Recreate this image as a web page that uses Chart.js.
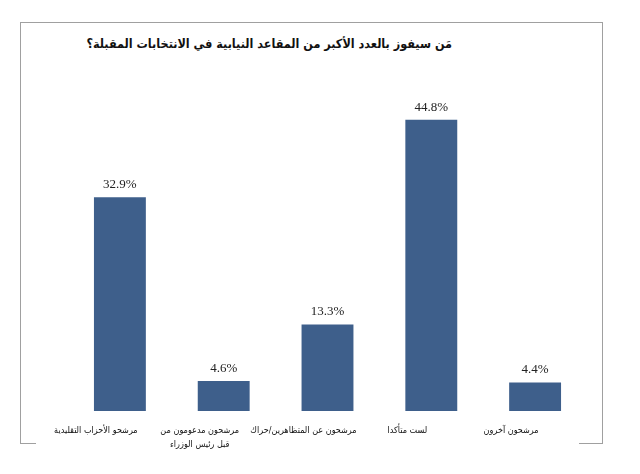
<!DOCTYPE html>
<html lang="ar">

<head>
    <meta charset="UTF-8">
    <title>Chart</title>
    <script src="https://cdn.jsdelivr.net/npm/chart.js"></script>
    <style>
        body {
            margin: 0;
            background: #fff;
        }

        #wrap {
            position: relative;
            width: 640px;
            height: 474px;
        }

        #frame {
            position: absolute;
            left: 20px;
            top: 22px;
            width: 581px;
            height: 421px;
            border: 1px solid #a0a0a0;
            border-bottom: none;
        }

        #frame::before,
        #frame::after {
            content: "";
            position: absolute;
            bottom: 0;
            height: 1px;
            background: #a0a0a0;
        }

        #frame::before {
            left: 0;
            width: 15px;
        }

        #frame::after {
            right: 0;
            width: 23px;
        }

        #title {
            position: absolute;
            top: 36px;
            right: 188px;
            direction: rtl;
            font-family: "DejaVu Sans Condensed", "DejaVu Sans", sans-serif;
            font-weight: bold;
            font-size: 12.5px;
            color: #111;
            white-space: nowrap;
        }

        canvas {
            position: absolute;
            left: 0;
            top: 0;
        }
    </style>
</head>

<body>
    <div id="wrap">
        <div id="frame"></div>
        <div id="title">مَن سيفوز بالعدد الأكبر من المقاعد النيابية في الانتخابات المقبلة؟</div>
        <canvas id="chart" width="640" height="474" dir="rtl"></canvas>
    </div>

    <script>
        const categories = [
            "مرشحو الأحزاب التقليدية",
            ["مرشحون مدعومون من", "قبل رئيس الوزراء"],
            "مرشحون عن المتظاهرين/حراك",
            "لست متأكدا",
            "مرشحون آخرون"
        ]
        const values = [32.9, 4.6, 13.3, 44.8, 4.4]

        // value labels above the bars
        const valueLabels = {
            id: 'valueLabels',
            afterDatasetsDraw(chart) {
                const ctx = chart.ctx
                const meta = chart.getDatasetMeta(0)
                ctx.save()
                ctx.direction = 'ltr'
                ctx.font = '13px "Liberation Serif", serif'
                ctx.fillStyle = '#222'
                ctx.textAlign = 'center'
                ctx.textBaseline = 'bottom'
                meta.data.forEach(function (bar, i) {
                    ctx.fillText(values[i].toFixed(1) + '%', bar.x, bar.y - 6)
                })
                ctx.restore()
            }
        }

        new Chart(document.getElementById('chart'), {
            type: 'bar',
            data: {
                labels: categories,
                datasets: [{
                    data: values,
                    backgroundColor: '#3e5f8b',
                    borderWidth: 0,
                    categoryPercentage: 1,
                    barPercentage: 0.5
                }]
            },
            options: {
                responsive: false,
                animation: false,
                layout: {
                    padding: { left: 68, right: 53, top: 86, bottom: 0 }
                },
                plugins: {
                    legend: { display: false },
                    tooltip: { enabled: false }
                },
                scales: {
                    y: {
                        display: false,
                        min: 0,
                        max: 50
                    },
                    x: {
                        grid: { display: false },
                        border: { display: false },
                        ticks: {
                            padding: 5,
                            labelOffset: -24,
                            maxRotation: 0,
                            autoSkip: false,
                            color: '#111',
                            font: { family: '"DejaVu Sans Condensed", "DejaVu Sans", sans-serif', size: 9, lineHeight: 1.55 }
                        },
                        afterFit: function (scale) {
                            scale.height = 63
                        }
                    }
                }
            },
            plugins: [valueLabels]
        })
    </script>
</body>

</html>
